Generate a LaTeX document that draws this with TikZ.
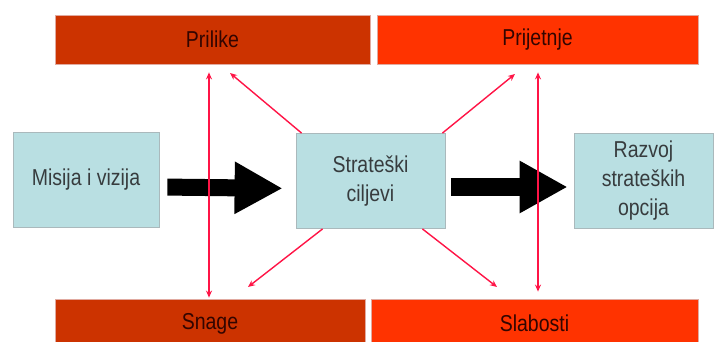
\documentclass[tikz,border=0pt]{standalone}
\usepackage{fontspec}
\usepackage{graphicx}
\setmainfont{Liberation Sans}
\usetikzlibrary{arrows.meta,calc}
\newcommand{\vtxt}[1]{\scalebox{1}[1.18]{#1}}
\definecolor{darkred}{RGB}{204,51,0}
\definecolor{brightred}{RGB}{255,51,0}
\definecolor{paleblue}{RGB}{185,223,226}
\definecolor{pinkline}{RGB}{255,20,70}
\definecolor{bluetext}{RGB}{55,60,62}
\definecolor{redtext}{RGB}{50,5,0}
\tikzset{
  redbox/.style={rectangle, draw={rgb,255:red,225;green,170;blue,160}, line width=0.8pt, minimum height=49pt, inner sep=0pt, text=redtext, font=\fontsize{19.5}{28}\selectfont},
  bluebox/.style={rectangle, fill=paleblue, draw={rgb,255:red,170;green,185;blue,188}, line width=0.8pt, minimum height=95pt, inner sep=0pt, align=center, text=bluetext, font=\fontsize{19.5}{29}\selectfont},
  blockarrow/.style={draw=black, line width=17pt, -{Triangle[length=48pt,width=49pt]}},
  pinkarrow/.style={draw=pinkline, line width=1.4pt, -{Stealth[length=7pt,width=6pt]}},
  pinkdouble/.style={draw=pinkline, line width=1.4pt, {Stealth[length=7pt,width=6pt]}-{Stealth[length=7pt,width=6pt]}}
}
\begin{document}
\begin{tikzpicture}[x=1pt,y=-1pt]
\useasboundingbox (0,0) rectangle (715,342);
\clip (0,0) rectangle (715,342);
\fill[white] (0,0) rectangle (715,342);
% top and bottom boxes
\node[redbox, fill=darkred, minimum width=315pt] (prilike) at (212.5,39.5) {\vtxt{Prilike}};
\node[redbox, fill=brightred, minimum width=321pt] (prijetnje) at (537.5,39.5) {\vtxt{Prijetnje}};
\node[redbox, fill=darkred, minimum width=310pt] (snage) at (210,323.5) {\vtxt{Snage}};
\node[redbox, fill=brightred, minimum width=327pt] (slabosti) at (534.5,323.5) {\vtxt{Slabosti}};
% middle boxes
\node[bluebox, minimum width=146pt] (misija) at (86,179.5) {\vtxt{Misija i vizija}};
\node[bluebox, minimum width=149pt] (strat) at (370.5,181) {\vtxt{Strateški}\\\vtxt{ciljevi}};
\node[bluebox, minimum width=139pt] (razvoj) at (643.5,181) {\vtxt{Razvoj}\\\vtxt{strateških}\\\vtxt{opcija}};
% block arrows
\draw[blockarrow, shorten <=8pt, shorten >=13pt] ([yshift=-7.5pt]misija.east) -- ([yshift=-7.5pt]strat.west);
\draw[blockarrow, shorten <=6pt, shorten >=6pt] ([yshift=-6pt]strat.east) -- ([yshift=-6pt]razvoj.west);
% coordinates for pink connectors
\coordinate (v1) at (209,0);
\coordinate (v2) at (538,0);
\coordinate (t1) at (230,73);
\coordinate (t2) at (515,74);
\coordinate (t3) at (248,287);
\coordinate (t4) at (497,287);
% pink vertical double arrows
\draw[pinkdouble, shorten <=8pt, shorten >=1pt] (prilike.south -| v1) -- (snage.north -| v1);
\draw[pinkdouble, shorten <=8pt, shorten >=7pt] (prijetnje.south -| v2) -- (slabosti.north -| v2);
% pink diagonals
\draw[pinkarrow] ([xshift=6pt]strat.north west) -- (t1);
\draw[pinkarrow] ([xshift=-3pt]strat.north east) -- (t2);
\draw[pinkarrow] ([xshift=27pt]strat.south west) -- (t3);
\draw[pinkarrow] ([xshift=-23pt]strat.south east) -- (t4);
\end{tikzpicture}
\end{document}
